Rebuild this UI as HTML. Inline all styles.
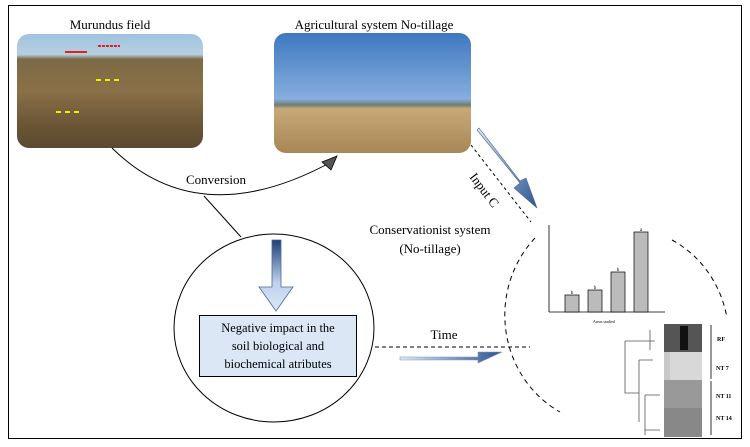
<!DOCTYPE html>
<html><head><meta charset="utf-8"><style>
body{margin:0;background:#fff;}
svg{display:block;font-family:"Liberation Serif",serif;}
</style></head><body>
<svg width="750" height="447" viewBox="0 0 750 447" xmlns="http://www.w3.org/2000/svg">
<defs>
<linearGradient id="mur" x1="0" y1="0" x2="0" y2="1">
<stop offset="0" stop-color="#9fc3e0"/><stop offset="0.18" stop-color="#b8cfe0"/><stop offset="0.22" stop-color="#7a6a45"/><stop offset="0.5" stop-color="#8a7048"/><stop offset="0.8" stop-color="#6b5535"/><stop offset="1" stop-color="#5a4a30"/>
</linearGradient>
<linearGradient id="agr" x1="0" y1="0" x2="0" y2="1">
<stop offset="0" stop-color="#3f78c0"/><stop offset="0.55" stop-color="#86aede"/><stop offset="0.6" stop-color="#6f7d70"/><stop offset="0.63" stop-color="#c7a877"/><stop offset="1" stop-color="#a88656"/>
</linearGradient>
<linearGradient id="dn" x1="0" y1="0" x2="0" y2="1">
<stop offset="0" stop-color="#1f3f78"/><stop offset="0.6" stop-color="#bcd2ee"/><stop offset="1" stop-color="#dde8f6"/>
</linearGradient>
<linearGradient id="rt" x1="0" y1="0" x2="1" y2="0">
<stop offset="0" stop-color="#e0eaf6"/><stop offset="1" stop-color="#2c5491"/>
</linearGradient>
<linearGradient id="dg" x1="0" y1="0" x2="1" y2="1">
<stop offset="0" stop-color="#dce8f6"/><stop offset="1" stop-color="#2c5491"/>
</linearGradient>
</defs>
<rect x="8.5" y="5.5" width="733" height="433" fill="none" stroke="#000" stroke-width="1"/>
<text x="110" y="29" font-size="13" text-anchor="middle">Murundus field</text>
<text x="374" y="29" font-size="13" text-anchor="middle">Agricultural system No-tillage</text>
<rect x="17" y="34" width="186" height="114" rx="12" fill="url(#mur)"/>
<path d="M65 52 h22" stroke="#d22" stroke-width="2"/><path d="M98 46 h22" stroke="#d22" stroke-width="2" stroke-dasharray="3 1"/>
<path d="M96 80 h26 M56 112 h24" stroke="#ee0" stroke-width="2" stroke-dasharray="5 4"/>
<rect x="274" y="33" width="197" height="120" rx="12" fill="url(#agr)"/>
<path d="M112 148 Q200 235 335 160" fill="none" stroke="#000" stroke-width="1"/>
<polygon points="337,156 322,162 331,170" fill="#555" stroke="#000" stroke-width="0.8"/>
<text x="216" y="184" font-size="13" text-anchor="middle">Conversion</text>
<line x1="204" y1="196" x2="241" y2="237" stroke="#000"/>
<ellipse cx="274" cy="328" rx="100" ry="94" fill="#fff" stroke="#000"/>
<path d="M272 240 h9 v47 h12 l-17 24 l-17 -24 h13 z" fill="url(#dn)" stroke="#4a6a98" stroke-width="0.8"/>
<rect x="199.5" y="315.5" width="157" height="61" fill="#dbe7f5" stroke="#000"/>
<text x="278" y="332" font-size="12.5" text-anchor="middle">Negative impact in the</text>
<text x="278" y="350" font-size="12.5" text-anchor="middle">soil biological and</text>
<text x="278" y="368" font-size="12.5" text-anchor="middle">biochemical atributes</text>
<text x="444" y="339" font-size="13" text-anchor="middle">Time</text>
<line x1="375" y1="347" x2="530" y2="347" stroke="#000" stroke-dasharray="4 3"/>
<path d="M400 357 h78 v-5 h24 l-24 11 v-3 h-78 z" fill="url(#rt)" stroke="#7a95bd" stroke-width="0.6"/>
<text x="430" y="234" font-size="13" text-anchor="middle">Conservationist system</text>
<text x="430" y="253" font-size="13" text-anchor="middle">(No-tillage)</text>
<path d="M477 130 L520 183 L514 188 L537 208 L526 178 L520 181 L479 128 Z" fill="url(#dg)" stroke="#4a6a98" stroke-width="0.6"/>
<line x1="471" y1="145" x2="531" y2="222" stroke="#000" stroke-dasharray="3 3"/>
<text x="0" y="0" font-size="13" transform="translate(469 177) rotate(53)">Input C</text>
<path d="M535 238 A105 110 0 0 0 560 412" fill="none" stroke="#000" stroke-dasharray="5 4"/>
<path d="M672 240 A105 110 0 0 1 727 318" fill="none" stroke="#000" stroke-dasharray="5 4"/>
<line x1="549" y1="225" x2="549" y2="312" stroke="#000" stroke-width="0.8"/>
<line x1="549" y1="312" x2="665" y2="312" stroke="#000" stroke-width="0.8"/>
<rect x="565" y="295" width="14" height="17" fill="#bbb" stroke="#000" stroke-width="0.7"/>
<rect x="588" y="290" width="14" height="22" fill="#bbb" stroke="#000" stroke-width="0.7"/>
<rect x="611" y="272" width="14" height="40" fill="#bbb" stroke="#000" stroke-width="0.7"/>
<rect x="634" y="232" width="14" height="80" fill="#bbb" stroke="#000" stroke-width="0.7"/>
<text x="572" y="294" font-size="5" text-anchor="middle">b</text>
<text x="595" y="289" font-size="5" text-anchor="middle">b</text>
<text x="618" y="271" font-size="5" text-anchor="middle">b</text>
<text x="641" y="231" font-size="5" text-anchor="middle">a</text>
<text x="604" y="323" font-size="4" text-anchor="middle">Areas studied</text>
<rect x="664" y="324" width="38" height="113" fill="#c8c8c8"/>
<rect x="664" y="324" width="38" height="28" fill="#555"/>
<rect x="680" y="326" width="8" height="24" fill="#111"/>
<rect x="670" y="352" width="32" height="28" fill="#d8d8d8"/>
<rect x="664" y="380" width="38" height="28" fill="#999"/>
<rect x="664" y="408" width="38" height="29" fill="#888"/>
<path d="M711 325 v29 M711 353 v26 M711 381 v27 M711 408 v27" stroke="#000" stroke-width="0.8"/>
<g font-size="6" font-weight="bold"><text x="717" y="341">RF</text><text x="716" y="370">NT 7</text><text x="716" y="398">NT 11</text><text x="716" y="420">NT 14</text></g>
<path d="M625 341 h30 M625 341 v52 h14 M639 360 v62 M639 360 h14 M650 330 v20 M645 395 v40 M645 395 h15 M645 430 h15" fill="none" stroke="#555" stroke-width="0.8"/>
</svg>
</body></html>
